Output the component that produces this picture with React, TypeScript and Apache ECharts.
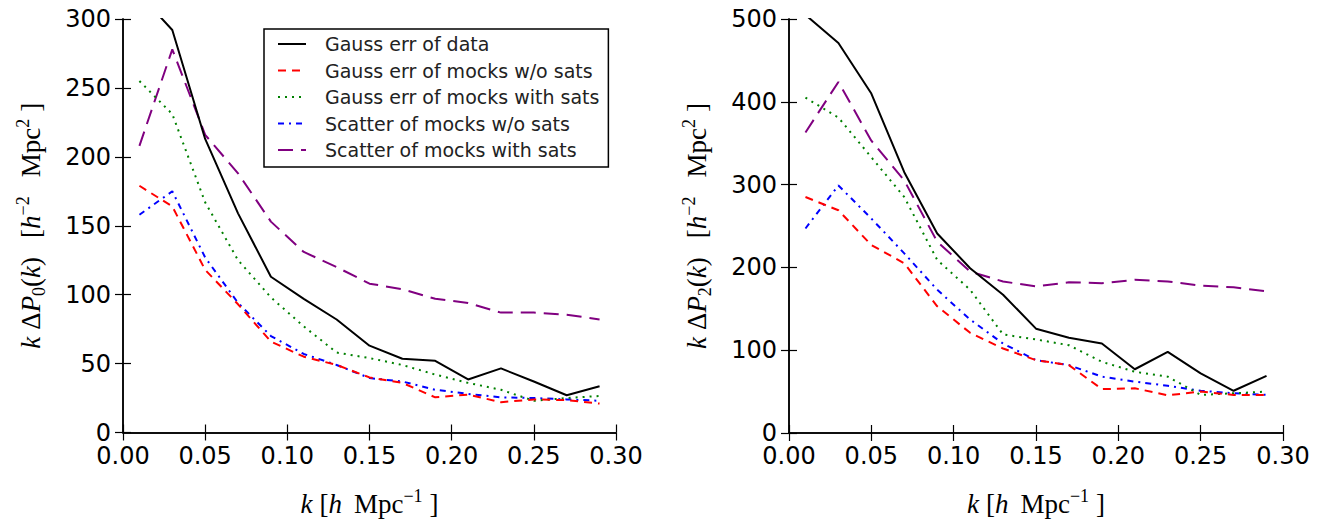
import React, { useEffect, useRef } from "react";
import * as echarts from "echarts";

const K = [0.01, 0.03, 0.05, 0.07, 0.09, 0.11, 0.13, 0.15, 0.17, 0.19, 0.21, 0.23, 0.25, 0.27, 0.29];

const SERIES_NAMES = [
  "Gauss err of data",
  "Gauss err of mocks w/o sats",
  "Gauss err of mocks with sats",
  "Scatter of mocks w/o sats",
  "Scatter of mocks with sats",
];

// Left panel: monopole
const dataGaussP0 = [318, 292, 213, 159, 113, 97, 82, 63, 53.5, 52, 38.5, 46.5, 37, 27, 33.5];
const mocksNoSatsP0 = [179, 164, 118, 93, 66, 55, 49, 40, 36, 25.5, 27.5, 22, 24, 23.5, 21];
const mocksSatsP0 = [255, 231, 167, 125, 98, 77, 58, 54, 49, 42, 36, 31, 23, 25, 26.5];
const scatterNoSatsP0 = [158, 175, 127, 94, 70, 57, 49, 39.5, 37, 31, 28, 25.5, 25, 24, 23];
const scatterSatsP0 = [208, 278, 216, 188, 153, 131, 120, 108, 104, 97, 94, 87, 87, 85.5, 82];

// Right panel: quadrupole
const dataGaussP2 = [505, 471, 410, 315, 241, 199, 167, 126, 115, 108, 77, 98, 72, 51, 69];
const mocksNoSatsP2 = [285, 269, 227, 205, 153, 121, 102, 88, 82, 53, 54, 45.5, 50, 46, 46];
const mocksSatsP2 = [405, 381, 333, 285, 209, 173, 119, 113, 106, 86, 74, 68, 46, 48, 50];
const scatterNoSatsP2 = [247, 299, 259, 217, 173, 137, 108, 88, 82, 68, 62, 57, 51, 48, 46];
const scatterSatsP2 = [363, 424, 353, 305, 231, 195, 183, 177, 182, 181, 185, 183, 178, 176, 171];

const STYLES = [
  { color: "#000000", type: "solid" as any, width: 2 },
  { color: "#ff0000", type: [8, 6], width: 2 },
  { color: "#008000", type: [2, 5], width: 2 },
  { color: "#0000ff", type: [6, 5, 2, 5], width: 2 },
  { color: "#800080", type: [15, 8], width: 2 },
];

const SANS = "DejaVu Sans";
const SERIF = "Liberation Serif";

const richName = {
  it: { fontFamily: SERIF, fontStyle: "italic", fontSize: 27, lineHeight: 34, color: "#000" },
  rm: { fontFamily: SERIF, fontSize: 27, lineHeight: 34, color: "#000" },
  sup: { fontFamily: SERIF, fontSize: 18, lineHeight: 15, verticalAlign: "top", color: "#000" },
  sub: { fontFamily: SERIF, fontSize: 18, lineHeight: 15, verticalAlign: "bottom", color: "#000" },
  g1: { width: 7, lineHeight: 34 },
  g2: { width: 19, lineHeight: 34 },
  g3: { width: 12, lineHeight: 34 },
};

const yName = (n: string) =>
  `{it|k}{g1| }{rm|Δ}{it|P}{sub|${n}}{rm|(}{it|k}{rm|)}{g2| }{rm|[}{it|h}{sup|−2}{g2| }{rm|Mpc}{sup|2}{g1| }{rm|]}`;
const xName = `{it|k}{g1| }{rm|[}{it|h}{g3| }{rm|Mpc}{sup|−1}{g1| }{rm|]}`;

function xAxes(gridIndex: number) {
  const common = {
    type: "value",
    gridIndex,
    min: 0,
    max: 0.3,
    interval: 0.05,
    splitLine: { show: false },
    axisLine: { show: true, lineStyle: { color: "#000", width: 1.5 } },
    axisTick: { show: true, inside: true, length: 8, lineStyle: { color: "#000", width: 1.2 } },
  };
  return [
    {
      ...common,
      position: "bottom",
      name: xName,
      nameLocation: "middle",
      nameGap: 54,
      nameTextStyle: { rich: richName },
      axisLabel: {
        show: true,
        margin: 12,
        color: "#000",
        fontFamily: SANS,
        fontSize: 24,
        lineHeight: 22,
        formatter: (v: number) => v.toFixed(2),
      },
    },
    { ...common, position: "top", axisLabel: { show: false } },
  ];
}

function yAxes(gridIndex: number, max: number, interval: number, n: string) {
  const common = {
    type: "value",
    gridIndex,
    min: 0,
    max,
    interval,
    splitLine: { show: false },
    axisLine: { show: true, lineStyle: { color: "#000", width: 1.5 } },
    axisTick: { show: true, inside: true, length: 8, lineStyle: { color: "#000", width: 1.2 } },
  };
  return [
    {
      ...common,
      position: "left",
      name: yName(n),
      nameLocation: "middle",
      nameGap: 75,
      nameTextStyle: { rich: richName },
      axisLabel: { show: true, margin: 12, color: "#000", fontFamily: SANS, fontSize: 24, lineHeight: 22 },
    },
    { ...common, position: "right", axisLabel: { show: false } },
  ];
}

function panelSeries(arrays: number[][], axisIndex: number) {
  return arrays.map((arr, i) => ({
    type: "line",
    name: SERIES_NAMES[i],
    xAxisIndex: axisIndex,
    yAxisIndex: axisIndex,
    symbol: "none",
    clip: true,
    lineStyle: { ...STYLES[i] },
    itemStyle: { color: STYLES[i].color },
    data: K.map((k, j) => [k, arr[j]]),
    z: 2 + (arrays.length - i),
  }));
}

export default function App() {
  const ref = useRef<HTMLDivElement>(null);
  useEffect(() => {
    if (!ref.current) return;
    const chart = echarts.init(ref.current, null, { renderer: "svg" });
    const option: any = {
      animation: false,
      backgroundColor: "#ffffff",
      grid: [
        { left: 123, top: 19, width: 493, height: 413.5 },
        { left: 789, top: 19, width: 494, height: 414 },
      ],
      xAxis: [...xAxes(0), ...xAxes(1)],
      yAxis: [...yAxes(0, 300, 50, "0"), ...yAxes(1, 500, 100, "2")],
      legend: {
        data: SERIES_NAMES,
        orient: "vertical",
        left: 264,
        top: 29,
        itemWidth: 28,
        itemHeight: 14,
        itemGap: 6.5,
        padding: [5, 9, 7, 13],
        backgroundColor: "#ffffff",
        borderColor: "#000",
        borderWidth: 1.5,
        borderRadius: 0,
        z: 20,
        selectedMode: false,
        itemStyle: { opacity: 0 },
        textStyle: {
          color: "#222",
          fontFamily: SANS,
          fontSize: 19,
          lineHeight: 20,
          padding: [0, 0, 0, 14],
        },
      },
      series: [
        ...panelSeries([dataGaussP0, mocksNoSatsP0, mocksSatsP0, scatterNoSatsP0, scatterSatsP0], 0),
        ...panelSeries([dataGaussP2, mocksNoSatsP2, mocksSatsP2, scatterNoSatsP2, scatterSatsP2], 2),
      ],
    };
    chart.setOption(option);
    return () => chart.dispose();
  }, []);
  return (
    <div
      ref={ref}
      style={{ position: "fixed", left: 0, top: 0, width: 1336, height: 529, background: "#fff" }}
    />
  );
}
